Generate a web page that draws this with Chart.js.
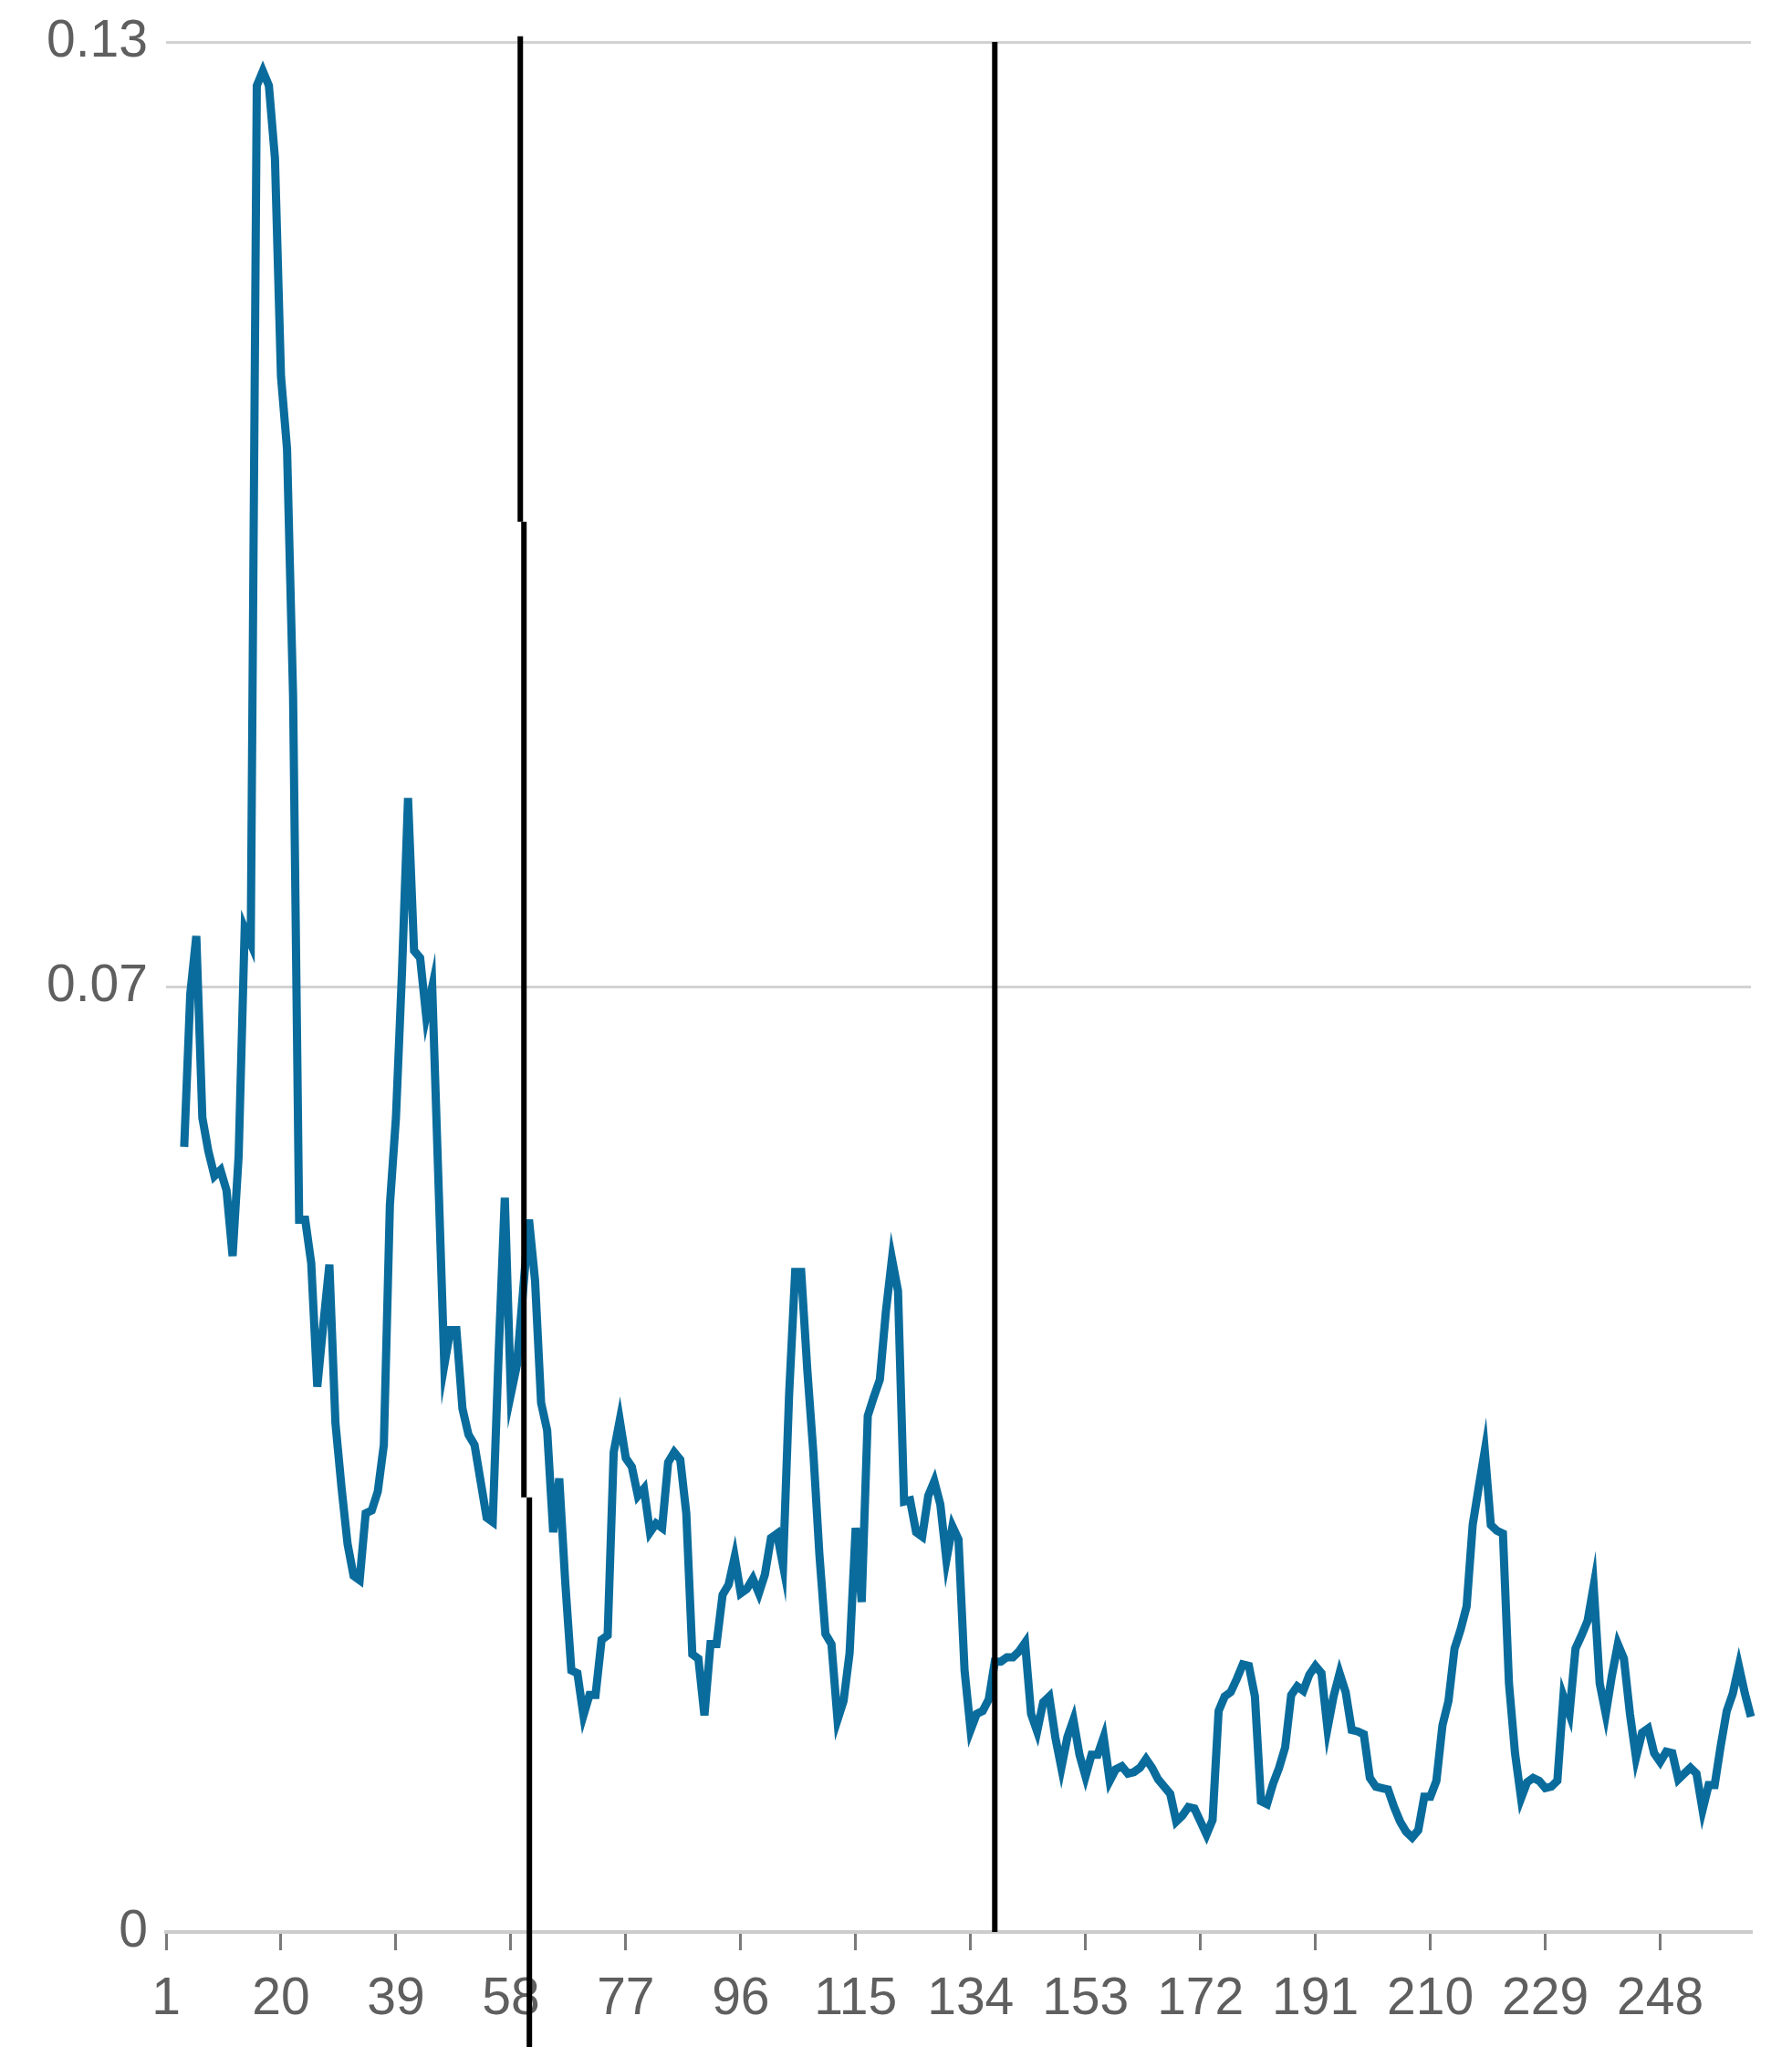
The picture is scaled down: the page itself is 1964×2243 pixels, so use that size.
<!DOCTYPE html>
<html>
<head>
<meta charset="utf-8">
<script src="https://cdn.jsdelivr.net/npm/chart.js@4/dist/chart.umd.min.js"></script>
<style>
html,body{margin:0;padding:0;background:#ffffff;}
#wrap{width:1964px;height:2243px;}
</style>
</head>
<body>
<div id="wrap"><canvas id="c" width="1964" height="2243"></canvas></div>
<script>
// ---- data ----
const categories = Array.from({length: 263}, (_, i) => String(i + 1));
const xTickLabels = ['1','20','39','58','77','96','115','134','153','172','191','210','229','248'];
const yTickValues = [0, 0.065, 0.13];
const yTickLabels = ['0', '0.07', '0.13'];
const seriesValues = [
  null, null, null,
  0.054, 0.0645, 0.0685, 0.056, 0.0537, 0.052, 0.0524, 0.051, 0.0465, 0.0534,
  0.069, 0.068, 0.127, 0.128, 0.127, 0.122, 0.107, 0.102, 0.085, 0.049,
  0.049, 0.046, 0.0375, 0.0418, 0.0459, 0.035, 0.0306, 0.0267, 0.0245, 0.0242,
  0.0288, 0.029, 0.0303, 0.0335, 0.050, 0.056, 0.066, 0.078, 0.0675, 0.067,
  0.063, 0.065, 0.052, 0.039, 0.0414, 0.0414, 0.036, 0.0342, 0.0335, 0.031,
  0.0285, 0.0282, 0.040, 0.0505, 0.037, 0.039, 0.044, 0.049, 0.0448, 0.0364,
  0.0345, 0.0275, 0.0312, 0.024, 0.018, 0.0178, 0.0149, 0.0163, 0.0163, 0.0201,
  0.0204, 0.033, 0.0352, 0.0326, 0.032, 0.030, 0.0305, 0.0275, 0.0281, 0.0278,
  0.0323, 0.033, 0.0325, 0.0288, 0.0191, 0.0188, 0.0149, 0.0198, 0.0198, 0.0232,
  0.0239, 0.0258, 0.0233, 0.0236, 0.0243, 0.0233, 0.0246, 0.0271, 0.0274, 0.0252,
  0.037, 0.0454, 0.0454, 0.0387, 0.033, 0.026, 0.0205, 0.0198, 0.0146, 0.0159,
  0.0192, 0.0278, 0.0227, 0.0355, 0.0368, 0.038, 0.0427, 0.0463, 0.0441, 0.0296,
  0.0297, 0.0275, 0.0272, 0.030, 0.031, 0.0294, 0.0256, 0.0279, 0.027, 0.018,
  0.0139, 0.015, 0.0152, 0.016, 0.0186, 0.0186, 0.0189, 0.0189, 0.0193, 0.0199,
  0.015, 0.0138, 0.0158, 0.0162, 0.0134, 0.0113, 0.0134, 0.0146, 0.0122, 0.0107,
  0.0122, 0.0122, 0.0134, 0.0104, 0.0112, 0.0114, 0.0109, 0.011, 0.0113, 0.0119,
  0.0113, 0.0105, 0.010, 0.0095, 0.0076, 0.008, 0.0086, 0.0085, 0.0076, 0.0067,
  0.0077, 0.0152, 0.0162, 0.0165, 0.0174, 0.0184, 0.0183, 0.0162, 0.009, 0.0088,
  0.0102, 0.0113, 0.0127, 0.0163, 0.0169, 0.0166, 0.0177, 0.0183, 0.0178, 0.014,
  0.0162, 0.0178, 0.0165, 0.0139, 0.0138, 0.0136, 0.0106, 0.010, 0.0099, 0.0098,
  0.0086, 0.0076, 0.0069, 0.0065, 0.007, 0.0093, 0.0093, 0.0104, 0.0142, 0.0159,
  0.0195, 0.0208, 0.0224, 0.028, 0.0306, 0.0331, 0.028, 0.0276, 0.0274, 0.0171,
  0.0123, 0.0092, 0.0103, 0.0106, 0.0104, 0.0099, 0.010, 0.0104, 0.0162, 0.015,
  0.0195, 0.0204, 0.0214, 0.0238, 0.0171, 0.015, 0.0176, 0.0198, 0.0188, 0.015,
  0.012, 0.0137, 0.014, 0.0123, 0.0117, 0.0124, 0.0123, 0.0105, 0.0109, 0.0113,
  0.0109, 0.0084, 0.0101, 0.0101, 0.0128, 0.0152, 0.0164, 0.0183, 0.0164, 0.0148
];
// vertical marker segments: [category index, from value, to value]
const markerSegments = [
  [58.56, 0.1304, 0.0970],
  [59.16, 0.0970, 0.0299],
  [60.06, 0.0299, -0.0080],
  [137.0, 0.1300, 0.0]
];

// ---- styling ----
const xTickFont = {family: "'Liberation Sans', Arial, sans-serif", size: 57};
const yTickFont = {family: "'Liberation Sans', Arial, sans-serif", size: 57, lineHeight: 0.9};
const tickColor = '#5f5f5f';

const markerPlugin = {
  id: 'markers',
  afterDatasetsDraw(chart) {
    const {ctx, scales: {x, y}} = chart;
    ctx.save();
    ctx.strokeStyle = '#000000';
    ctx.lineWidth = 6;
    ctx.lineCap = 'butt';
    markerSegments.forEach(([xi, v0, v1]) => {
      const px = x.getPixelForValue(xi);
      ctx.beginPath();
      ctx.moveTo(px, y.getPixelForValue(v0));
      ctx.lineTo(px, y.getPixelForValue(v1));
      ctx.stroke();
    });
    ctx.restore();
  }
};

new Chart(document.getElementById('c'), {
  type: 'line',
  data: {
    labels: categories,
    datasets: [{
      data: seriesValues,
      borderColor: '#0a6c9c',
      borderWidth: 9,
      pointRadius: 0,
      tension: 0,
      fill: false,
      borderJoinStyle: 'miter'
    }]
  },
  options: {
    responsive: false,
    animation: false,
    devicePixelRatio: 1,
    layout: {padding: {top: 46, right: 45, bottom: 0, left: 0}},
    plugins: {legend: {display: false}, tooltip: {enabled: false}},
    scales: {
      x: {
        type: 'category',
        offset: false,
        grid: {
          drawOnChartArea: false,
          drawTicks: true,
          tickLength: 20,
          lineWidth: 3,
          color: c => xTickLabels.includes(categories[c.index]) ? '#7a7a7a' : 'rgba(0,0,0,0)'
        },
        border: {display: true, color: '#cccccc', width: 4},
        ticks: {
          autoSkip: false,
          maxRotation: 0,
          minRotation: 0,
          padding: 20,
          color: tickColor,
          font: xTickFont,
          callback: (v, i) => xTickLabels.includes(categories[i]) ? categories[i] : ''
        },
        afterFit: s => { s.height = 126; }
      },
      y: {
        min: 0,
        max: 0.13,
        afterBuildTicks: s => { s.ticks = yTickValues.map(v => ({value: v})); },
        grid: {color: '#d2d2d2', lineWidth: 3, drawTicks: false},
        border: {display: false},
        ticks: {
          padding: 20,
          color: tickColor,
          font: yTickFont,
          callback: (v, i) => yTickLabels[i]
        },
        afterFit: s => { s.width = 182; }
      }
    }
  },
  plugins: [markerPlugin]
});
</script>
</body>
</html>
